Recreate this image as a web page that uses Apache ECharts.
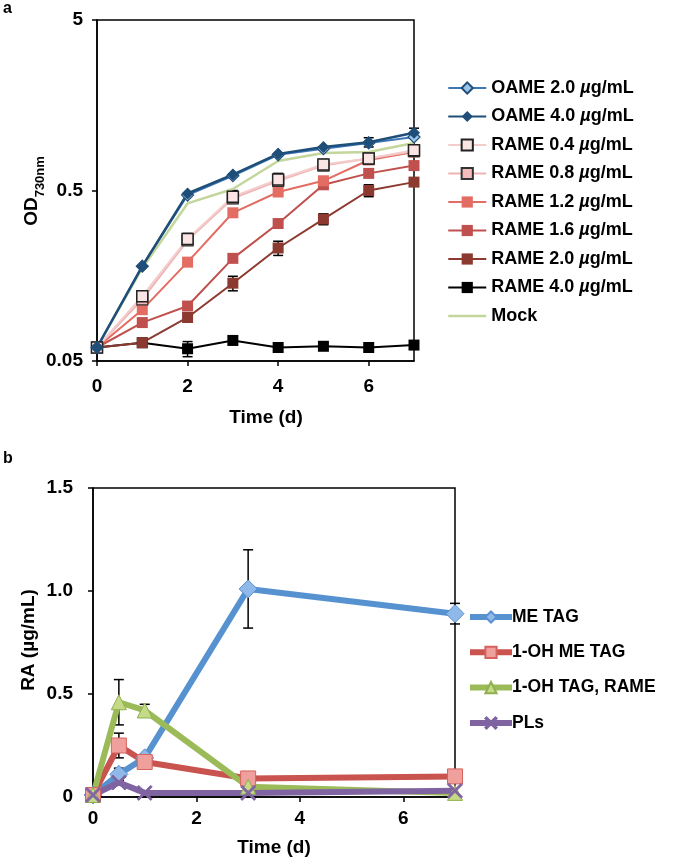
<!DOCTYPE html>
<html>
<head>
<meta charset="utf-8">
<script src="https://cdn.jsdelivr.net/npm/echarts@6/dist/echarts.min.js"></script>
<style>
html,body{margin:0;padding:0;background:#fff;}
#chart{width:675px;height:861px;}
</style>
</head>
<body>
<div id="chart"></div>
<script>
// ---------- Panel a data ----------
const daysA = [0, 1, 2, 3, 4, 5, 6, 7];
const oame20 = [0.06, 0.18, 0.47, 0.61, 0.81, 0.88, 0.95, 1.03];
const oame40 = [0.06, 0.18, 0.48, 0.62, 0.82, 0.90, 0.96, 1.09];
const rame04 = [0.06, 0.12, 0.26, 0.46, 0.58, 0.71, 0.77, 0.86];
const rame08 = [0.06, 0.115, 0.255, 0.45, 0.57, 0.70, 0.77, 0.85];
const rame12 = [0.06, 0.10, 0.19, 0.37, 0.49, 0.57, 0.755, 0.84];
const rame16 = [0.06, 0.084, 0.105, 0.20, 0.32, 0.54, 0.63, 0.70];
const rame20 = [0.06, 0.064, 0.09, 0.143, 0.23, 0.34, 0.50, 0.56];
const rame40 = [0.06, 0.064, 0.059, 0.066, 0.060, 0.061, 0.060, 0.062];
const mock   = [0.06, 0.175, 0.42, 0.51, 0.745, 0.83, 0.84, 0.95];
// error bars (absolute)
const errOame40 = [0, 0, 0, 0, 0, 0, 0.06, 0.07];
const errRame04 = [0, 0.008, 0.02, 0.04, 0.05, 0.05, 0, 0.06];
const errRame20 = [0, 0, 0, 0.014, 0.022, 0.025, 0.04, 0];
const errRame40 = [0, 0, 0.006, 0, 0, 0, 0, 0];
const yTicksA = [0.05, 0.5, 5];
const xTicksA = [0, 2, 4, 6];

// ---------- Panel b data ----------
const timesB = [0, 0.5, 1, 3, 7];
const meTag  = [0.01, 0.11, 0.19, 1.01, 0.89];
const ohMeTag = [0.01, 0.25, 0.17, 0.09, 0.10];
const ohTag  = [0.01, 0.46, 0.42, 0.05, 0.02];
const pls    = [0.01, 0.07, 0.02, 0.02, 0.03];
const errMeTag = [0, 0.03, 0, 0.19, 0.05];
const errOhMeTag = [0, 0.06, 0, 0, 0];
const errOhTag = [0, 0.11, 0.03, 0, 0];
const xTicksB = [0, 2, 4, 6];

const FONT = "'Liberation Sans', Arial, Helvetica, sans-serif";
const chart = echarts.init(document.getElementById('chart'), null, {renderer: 'canvas'});

function pts(xs, ys) { return xs.map((x, i) => [x, ys[i]]); }
function errPts(xs, ys, es) {
  const out = [];
  xs.forEach((x, i) => { if (es[i] > 0) out.push([x, ys[i], es[i]]); });
  return out;
}
function errSeries(data, xi, yi) {
  return {
    type: 'custom', xAxisIndex: xi, yAxisIndex: yi, z: 1, silent: true,
    data: data,
    renderItem: function (params, api) {
      const x = api.value(0), y = api.value(1), e = api.value(2);
      const hi = api.coord([x, y + e]);
      const lo = api.coord([x, y - e]);
      const w = 5;
      const st = {stroke: '#000', lineWidth: 1.5};
      return {type: 'group', children: [
        {type: 'line', shape: {x1: hi[0], y1: hi[1], x2: lo[0], y2: lo[1]}, style: st},
        {type: 'line', shape: {x1: hi[0] - w, y1: hi[1], x2: hi[0] + w, y2: hi[1]}, style: st},
        {type: 'line', shape: {x1: lo[0] - w, y1: lo[1], x2: lo[0] + w, y2: lo[1]}, style: st}
      ]};
    }
  };
}
function lineA(name, ys, symbol, lineColor, fill, border, bw, lw) {
  return {
    type: 'line', name: name, xAxisIndex: 0, yAxisIndex: 0, z: 2,
    data: pts(daysA, ys), symbol: symbol, symbolSize: symbol === 'diamond' ? 12 : 11,
    showSymbol: symbol !== 'none',
    lineStyle: {color: lineColor, width: lw || 2},
    itemStyle: {color: fill, borderColor: border, borderWidth: bw},
    emphasis: {disabled: true}, animation: false
  };
}
function lineB(name, ys, symbol, size, lineColor, fill, border) {
  return {
    type: 'line', name: name, xAxisIndex: 1, yAxisIndex: 1, z: 2,
    data: pts(timesB, ys), symbol: symbol, symbolSize: size,
    lineStyle: {color: lineColor, width: 6},
    itemStyle: {color: fill, borderColor: border, borderWidth: 1},
    emphasis: {disabled: true}, animation: false
  };
}
const X_PATH = 'path://M0,1L1,0L5,4L9,0L10,1L6,5L10,9L9,10L5,6L1,10L0,9L4,5Z';

const tickLabel = {fontFamily: FONT, fontWeight: 'bold', fontSize: 19, color: '#000'};
const axisLine = {show: true, lineStyle: {color: '#000', width: 1.5}};

const option = {
  animation: false,
  backgroundColor: '#fff',
  grid: [
    {left: 97, top: 20, width: 317, height: 341, show: true, borderColor: '#000', borderWidth: 1.5, backgroundColor: 'transparent'},
    {left: 93, top: 488, width: 362, height: 309, show: true, borderColor: '#000', borderWidth: 1.5, backgroundColor: 'transparent'}
  ],
  xAxis: [
    {gridIndex: 0, type: 'value', min: 0, max: 7, interval: 1,
     axisLine: axisLine, splitLine: {show: false},
     axisTick: {show: true, length: 5, lineStyle: {color: '#000', width: 1.5}, customValues: xTicksA},
     axisLabel: Object.assign({margin: 16, customValues: xTicksA}, tickLabel)},
    {gridIndex: 1, type: 'value', min: 0, max: 7, interval: 1,
     axisLine: axisLine, splitLine: {show: false},
     axisTick: {show: true, length: 5, lineStyle: {color: '#000', width: 1.5}, customValues: xTicksB},
     axisLabel: Object.assign({margin: 12, customValues: xTicksB}, tickLabel)}
  ],
  yAxis: [
    {gridIndex: 0, type: 'log', logBase: 10, min: 0.05, max: 5,
     axisLine: axisLine, splitLine: {show: false}, minorTick: {show: false},
     axisTick: {show: true, length: 5, lineStyle: {color: '#000', width: 1.5}, customValues: yTicksA},
     axisLabel: Object.assign({margin: 14, customValues: yTicksA,
       formatter: v => String(+(+v).toPrecision(2))}, tickLabel)},
    {gridIndex: 1, type: 'value', min: 0, max: 1.5, interval: 0.5,
     axisLine: axisLine, splitLine: {show: false},
     axisTick: {show: true, length: 5, lineStyle: {color: '#000', width: 1.5}},
     axisLabel: Object.assign({margin: 20,
       formatter: v => (v === 0 ? '0' : v.toFixed(1))}, tickLabel)}
  ],
  legend: [
    {
      data: ['OAME 2.0 µg/mL', 'OAME 4.0 µg/mL', 'RAME 0.4 µg/mL', 'RAME 0.8 µg/mL', 'RAME 1.2 µg/mL',
             'RAME 1.6 µg/mL', 'RAME 2.0 µg/mL', 'RAME 4.0 µg/mL',
             {name: 'Mock', itemStyle: {opacity: 0}, lineStyle: {width: 2.5}}],
      orient: 'vertical', left: 442, top: 74, itemWidth: 38, itemHeight: 14, itemGap: 10.5,
      selectedMode: false,
      lineStyle: {width: 2},
      formatter: n => n.replace('µ', '{i|µ}'),
      textStyle: {fontFamily: FONT, fontWeight: 'bold', fontSize: 18, color: '#000',
        rich: {i: {fontFamily: FONT, fontWeight: 'bold', fontStyle: 'italic', fontSize: 18, color: '#000'}}}
    },
    {
      data: ['ME TAG', '1-OH ME TAG', '1-OH TAG, RAME', 'PLs'],
      orient: 'vertical', left: 462, top: 603, itemWidth: 42, itemHeight: 14, itemGap: 17.3,
      selectedMode: false,
      lineStyle: {width: 6},
      textStyle: {fontFamily: FONT, fontWeight: 'bold', fontSize: 17.5, color: '#000', padding: [0, 0, 0, -5]}
    }
  ],
  graphic: [
    {type: 'text', left: 3, top: 1, style: {text: 'a', font: 'bold 16px ' + FONT, fill: '#000'}},
    {type: 'text', left: 3, top: 451, style: {text: 'b', font: 'bold 16px ' + FONT, fill: '#000'}},
    {type: 'text', x: 266, y: 418, style: {text: 'Time (d)', font: 'bold 19px ' + FONT, fill: '#000', align: 'center', verticalAlign: 'middle'}},
    {type: 'text', x: 274, y: 848, style: {text: 'Time (d)', font: 'bold 19px ' + FONT, fill: '#000', align: 'center', verticalAlign: 'middle'}},
    {type: 'text', x: 30, y: 191, rotation: Math.PI / 2,
     style: {text: '{a|OD}{s|730nm}', align: 'center', verticalAlign: 'middle', fill: '#000',
       rich: {a: {fontFamily: FONT, fontWeight: 'bold', fontSize: 19, color: '#000', verticalAlign: 'bottom', lineHeight: 22},
              s: {fontFamily: FONT, fontWeight: 'bold', fontSize: 13, color: '#000', verticalAlign: 'bottom', lineHeight: 22, padding: [0, 0, -6, 0]}}}},
    {type: 'text', x: 29, y: 640, rotation: Math.PI / 2,
     style: {text: 'RA (µg/mL)', font: 'bold 19px ' + FONT, fill: '#000', align: 'center', verticalAlign: 'middle'}}
  ],
  series: [
    errSeries(errPts(daysA, oame40, errOame40), 0, 0),
    errSeries(errPts(daysA, rame04, errRame04), 0, 0),
    errSeries(errPts(daysA, rame20, errRame20), 0, 0),
    errSeries(errPts(daysA, rame40, errRame40), 0, 0),
    lineA('Mock', mock, 'none', '#c3d69b', '#c3d69b', '#c3d69b', 0, 2.5),
    lineA('RAME 4.0 µg/mL', rame40, 'rect', '#000000', '#000000', '#000000', 0),
    lineA('RAME 2.0 µg/mL', rame20, 'rect', '#8c3a30', '#8c3a30', '#8c3a30', 0),
    lineA('RAME 1.6 µg/mL', rame16, 'rect', '#c0504d', '#c0504d', '#c0504d', 0),
    lineA('RAME 1.2 µg/mL', rame12, 'rect', '#e36c63', '#e36c63', '#e36c63', 0),
    lineA('RAME 0.8 µg/mL', rame08, 'rect', '#efb4b4', '#f4bcbc', '#333333', 1.2),
    lineA('RAME 0.4 µg/mL', rame04, 'rect', '#f4cccc', '#fbe4e4', '#222222', 1.5),
    lineA('OAME 2.0 µg/mL', oame20, 'diamond', '#3c78b8', '#9dc3e6', '#1f4e79', 1.2),
    lineA('OAME 4.0 µg/mL', oame40, 'diamond', '#1f4e79', '#1f4e79', '#1f4e79', 0, 2.5),
    errSeries(errPts(timesB, meTag, errMeTag), 1, 1),
    errSeries(errPts(timesB, ohMeTag, errOhMeTag), 1, 1),
    errSeries(errPts(timesB, ohTag, errOhTag), 1, 1),
    lineB('ME TAG', meTag, 'diamond', 18, '#5792d0', '#8fb9e9', '#5b8fd0'),
    lineB('1-OH ME TAG', ohMeTag, 'rect', 15, '#c9534e', '#f0a09c', '#d6625d'),
    lineB('1-OH TAG, RAME', ohTag, 'triangle', 15, '#9bbb59', '#c4da86', '#8fb04d'),
    lineB('PLs', pls, X_PATH, 15, '#8064a2', '#8064a2', '#8064a2')
  ]
};
chart.setOption(option);
</script>
</body>
</html>
